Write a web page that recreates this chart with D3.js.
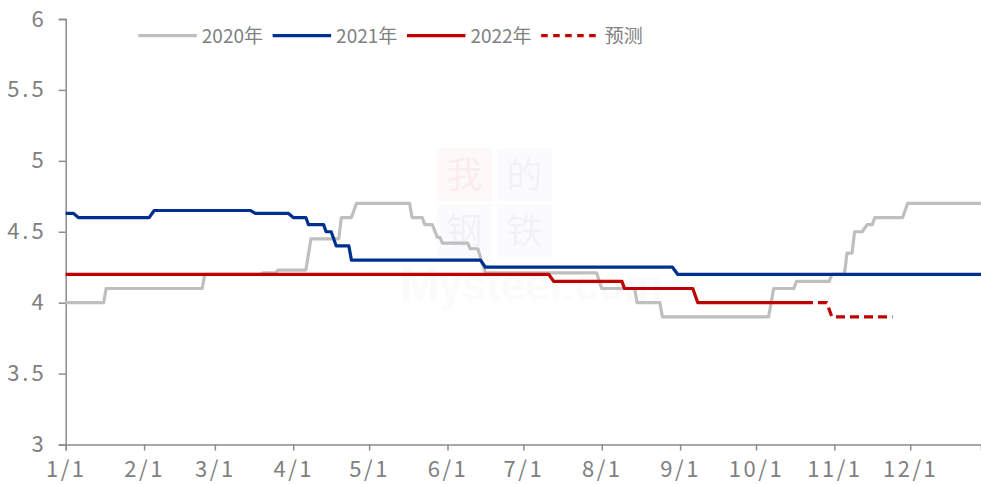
<!DOCTYPE html>
<html><head><meta charset="utf-8">
<script src="https://cdn.jsdelivr.net/npm/d3@7/dist/d3.min.js"></script>
<style>
body{margin:0;background:#fff}
svg{display:block}
text{font-family:"Noto Sans CJK SC",sans-serif;fill:#808080}
</style>
</head><body>
<svg id="chart" width="981" height="484"></svg>
<script>
// ---------------- data ----------------
const xDomain = ["01-01", "12-29"];
const xTickDates = ["01-01","02-01","03-01","04-01","05-01","06-01","07-01","08-01","09-01","10-01","11-01","12-01"];
const yTickValues = [3, 3.5, 4, 4.5, 5, 5.5, 6];
const legendNames = ["2020年", "2021年", "2022年", "预测"];

const s2020 = [["01-01",4.0],["01-16",4.0],["01-17",4.1],["02-24",4.1],["02-25",4.2],["03-19",4.2],["03-20",4.21],["03-25",4.21],["03-26",4.23],["04-06",4.23],["04-08",4.45],["04-19",4.45],["04-20",4.6],["04-24",4.6],["04-26",4.7],["05-17",4.7],["05-18",4.6],["05-22",4.6],["05-23",4.55],["05-26",4.55],["05-28",4.46],["05-29",4.46],["05-30",4.42],["06-09",4.42],["06-10",4.38],["06-13",4.38],["06-16",4.21],["07-30",4.21],["08-01",4.1],["08-14",4.1],["08-15",4.0],["08-24",4.0],["08-25",3.9],["10-06",3.9],["10-08",4.1],["10-16",4.1],["10-17",4.15],["10-30",4.15],["10-31",4.2],["11-05",4.2],["11-06",4.35],["11-08",4.35],["11-09",4.5],["11-12",4.5],["11-14",4.55],["11-16",4.55],["11-17",4.6],["11-28",4.6],["11-30",4.7],["12-29",4.7]];

const s2021 = [["01-01",4.63],["01-04",4.63],["01-06",4.6],["02-03",4.6],["02-05",4.65],["03-15",4.65],["03-17",4.63],["03-30",4.63],["04-01",4.6],["04-06",4.6],["04-07",4.55],["04-13",4.55],["04-14",4.5],["04-16",4.5],["04-18",4.4],["04-23",4.4],["04-24",4.3],["06-14",4.3],["06-16",4.25],["08-29",4.25],["08-31",4.2],["12-29",4.2]];

const s2022 = [["01-01",4.2],["07-11",4.2],["07-13",4.15],["08-09",4.15],["08-10",4.1],["09-06",4.1],["09-08",4.0],["10-20",4.0]];

const sForecast = [["10-20",4.0],["10-29",4.0],["10-31",3.9],["11-24",3.9]];

// ---------------- chart ----------------
const parse = d3.timeParse("%m-%d");
const svg = d3.select("#chart");
const W = 981, H = 484;
const m = {left: 65.7, right: 0, top: 19, bottom: 39.5};

const x = d3.scaleTime().domain(xDomain.map(parse)).range([m.left, W - m.right]);
const y = d3.scaleLinear().domain([3, 6]).range([H - m.bottom, m.top]);

// watermark
const wm = svg.append("g").attr("opacity", 0.5);
const cells = [[437,148,"#f9dede","我","#f2b8b8"],[497,148,"#e4e8f3","的","#c8d0e6"],[437,204,"#e4e8f3","钢","#c8d0e6"],[497,204,"#e4e8f3","铁","#c8d0e6"]];
cells.forEach(c => {
  wm.append("rect").attr("x", c[0]).attr("y", c[1]).attr("width", 55).attr("height", 53).attr("fill", c[2]).attr("opacity", 0.35);
  wm.append("text").attr("x", c[0] + 27.5).attr("y", c[1] + 40).attr("text-anchor", "middle")
    .style("font-family", "'Noto Sans CJK SC'").style("font-size", "36px").style("fill", c[4]).attr("opacity", 0.45).text(c[3]);
});
wm.append("text").attr("x", 400).attr("y", 301)
  .attr("textLength", 263).attr("lengthAdjust", "spacingAndGlyphs")
  .style("font-family", "Roboto, sans-serif").style("font-size", "48px").style("font-weight", "bold")
  .style("fill", "#e6e6e6").attr("opacity", 0.35).text("Mysteel.com");

// axes
const axisColor = "#8c8c8c";
const yAxis = svg.append("g").attr("transform", `translate(${m.left},0)`)
  .call(d3.axisLeft(y).tickValues(yTickValues).tickSize(7).tickPadding(12)
    .tickFormat(d => Number.isInteger(d) ? String(d) : d.toFixed(1)));
const xAxis = svg.append("g").attr("transform", `translate(0,${H - m.bottom})`)
  .call(d3.axisBottom(x).tickValues(xTickDates.map(parse)).tickSize(6).tickPadding(11)
    .tickFormat(d3.timeFormat("%-m/%-d")));
[yAxis, xAxis].forEach(g => {
  g.select(".domain").attr("stroke", axisColor).attr("stroke-width", 1.5);
  g.selectAll(".tick line").attr("stroke", axisColor).attr("stroke-width", 1.5);
  g.selectAll(".tick text").style("font-size", "22px").style("fill", "#808080");
});
yAxis.selectAll(".tick text").attr("letter-spacing", "3px");
xAxis.selectAll(".tick text").attr("letter-spacing", "2.5px");

// lines
const line = d3.line().x(d => x(parse(d[0]))).y(d => y(d[1]));
const series = [
  {data: s2020, color: "#bfbfbf", dash: null},
  {data: s2021, color: "#00308f", dash: null},
  {data: s2022, color: "#c00000", dash: null},
  {data: sForecast, color: "#c00000", dash: "9,5"}
];
series.forEach(s => {
  svg.append("path").datum(s.data).attr("d", line)
    .attr("fill", "none").attr("stroke", s.color).attr("stroke-width", 3.2)
    .attr("stroke-linejoin", "round")
    .attr("stroke-dasharray", s.dash);
});

// legend
const lg = svg.append("g").attr("transform", "translate(138.3,35.7)");
series.forEach((s, i) => {
  const g = lg.append("g").attr("transform", `translate(${i * 134.3},0)`);
  g.append("line").attr("x1", 0).attr("x2", 58.5).attr("y1", 0).attr("y2", 0)
    .attr("stroke", s.color).attr("stroke-width", 3.2).attr("stroke-dasharray", s.dash ? "6.5,5.5" : null);
  g.append("text").attr("x", 63.5).attr("y", 0).attr("dy", "0.38em")
    .style("font-size", "19px").text(legendNames[i]);
});
</script>
</body></html>
